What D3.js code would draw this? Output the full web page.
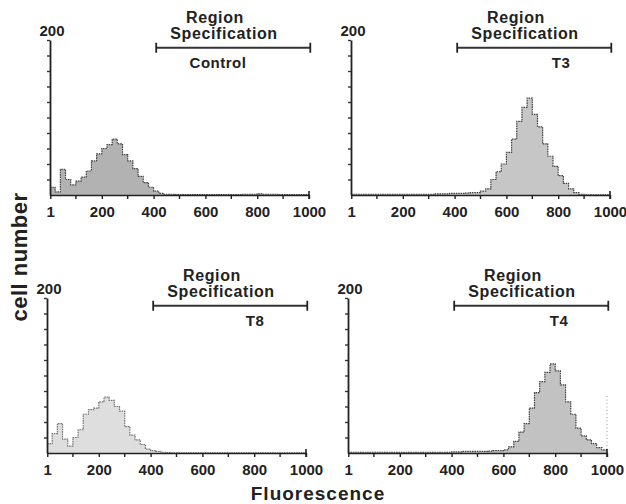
<!DOCTYPE html>
<html>
<head>
<meta charset="utf-8">
<script src="https://cdn.jsdelivr.net/npm/d3@7"></script>
<style>
  html, body { margin: 0; padding: 0; background: #fff; }
  svg { display: block; }
  text { font-family: "Liberation Sans", Arial, sans-serif; font-weight: 700; fill: #222; }
</style>
</head>
<body>
<svg id="chart" width="626" height="504"></svg>
<script>
// ---- data (bins of 20 fluorescence channels, start values) ----
const binStarts = d3.range(0, 1000, 20);
const binWidth = 20;

const control = [10, 4, 33, 20, 13, 18, 23, 31, 44, 53, 60, 65, 72, 66, 52, 44, 34, 24, 16, 10,
                 5, 2, 1, 1, 0.5, 0.5, 0.5, 0.5, 0.5, 0.5, 0.5, 0.5, 0.5, 0.5, 0.5, 0.5, 0.5, 1, 1, 1,
                 1.5, 1, 1, 1, 0.5, 0.5, 0.5, 0.5, 0.5, 0.5];
const t3 = [1, 1, 1, 1, 1, 1, 1, 1, 1, 1, 1, 1, 1, 1, 1, 1, 1.5, 1.5, 1.5, 2,
            2, 2, 2.5, 3, 3, 5, 8, 20, 30, 40, 55, 72, 95, 113, 125, 104, 88, 66, 50, 37,
            25, 15, 8, 3, 1, 0.3, 0.3, 0.3, 0.3, 0.3];
const t8 = [12, 25, 38, 18, 9, 20, 30, 50, 56, 58, 66, 72, 68, 60, 54, 34, 23, 17, 11, 5,
            3, 2, 1, 0.5, 0.3, 0.3, 0.3, 0.3, 0.3, 0.3, 0.3, 0.3, 0.3, 0.3, 0.3, 0.3, 0.3, 0.3, 0.3, 0.3,
            0.3, 0.3, 0.3, 0.3, 0.3, 0.3, 0.3, 0.3, 0.3, 0.3];
const t4 = [1, 1, 1, 1, 1, 1, 1, 1, 1, 1, 1, 1, 1, 1, 1, 1, 1, 1, 1, 1,
            1.5, 1.5, 2, 2, 2, 2, 2, 2.5, 3, 3, 4, 8, 15, 27, 38, 58, 78, 92, 104, 115,
            106, 88, 66, 50, 32, 22, 17, 12, 7, 4];

const panelNames = ["Control", "T3", "T8", "T4"];
const panelSeries = [control, t3, t8, t4];

const xTickValues = [1, 200, 400, 600, 800, 1000];
const xTickLabels = ["1", "200", "400", "600", "800", "1000"];
const xMinorTicks = d3.range(100, 1000, 100);
const yTickValues = d3.range(20, 201, 20);
const yMaxLabel = "200";
const regionSpec = [410, 1005];      // Region Specification range
const regionLevel = 190;             // drawn at count level
const regionTitle = ["Region", "Specification"];
const t4Marker = [[1000, 0], [1000, 75]];
const xTitle = "Fluorescence";
const yTitle = "cell number";

// ---- layout ----
const panels = [
  { x0: 50,  base: 195, fill: "#b2b2b2", lab: 168 },
  { x0: 351, base: 195, fill: "#c6c6c6", lab: 210 },
  { x0: 47,  base: 453, fill: "#dedede", lab: 208 },
  { x0: 348, base: 453, fill: "#c2c2c2", lab: 211 }
];
const W = 259, H = 155;

const svg = d3.select("#chart");
svg.append("rect").attr("width", 626).attr("height", 504).attr("fill", "#fff");

panels.forEach((p, i) => {
  const data = panelSeries[i];
  const x = d3.scaleLinear().domain([0, 1000]).range([p.x0, p.x0 + W]);
  const y = d3.scaleLinear().domain([0, 200]).range([p.base, p.base - H]);
  const g = svg.append("g");

  const pts = binStarts.map((b, k) => [b, data[k]]);
  pts.push([1000, data[data.length - 1]]);

  const area = d3.area().curve(d3.curveStepAfter)
    .x(d => x(d[0])).y0(y(0)).y1(d => y(d[1]));
  const line = d3.line().curve(d3.curveStepAfter)
    .x(d => x(d[0])).y(d => y(d[1]));

  g.append("path").attr("d", area(pts)).attr("fill", p.fill).attr("stroke", "none");
  g.append("path").attr("d", line(pts)).attr("fill", "none")
    .attr("stroke", i === 2 ? "#777" : "#444").attr("stroke-width", 1.2)
    .attr("stroke-dasharray", "1.6 0.8");

  if (i === 3) {
    g.append("path").attr("d", d3.line().x(d => x(d[0])).y(d => y(d[1]))(t4Marker))
      .attr("stroke", "#999").attr("stroke-width", 1).attr("stroke-dasharray", "1 2.5").attr("fill", "none");
  }

  // x axis
  const xa = g.append("g").attr("transform", `translate(0,${p.base})`)
    .call(d3.axisBottom(x).tickValues(xTickValues).tickSizeInner(4).tickSizeOuter(0).tickPadding(7)
      .tickFormat((d, k) => xTickLabels[k]));
  xa.select(".domain").attr("stroke", "#222").attr("stroke-width", 1.6);
  xa.selectAll(".tick line").attr("stroke", "#222").attr("stroke-width", 1.4);
  xa.selectAll(".tick text").attr("font-size", 15).attr("fill", "#222")
    .attr("font-family", "'Liberation Sans', Arial, sans-serif").attr("font-weight", 700);
  g.selectAll(".minor").data(xMinorTicks.filter(v => xTickValues.indexOf(v) < 0)).join("line")
    .attr("x1", d => x(d)).attr("x2", d => x(d))
    .attr("y1", p.base).attr("y2", p.base + 4)
    .attr("stroke", "#222").attr("stroke-width", 1.4);
  // end cap at 1000
  g.append("line").attr("x1", x(1000)).attr("x2", x(1000))
    .attr("y1", p.base - 4).attr("y2", p.base + 4)
    .attr("stroke", "#222").attr("stroke-width", 1.6);

  // y axis
  const ya = g.append("g").attr("transform", `translate(${p.x0},0)`)
    .call(d3.axisLeft(y).tickValues(yTickValues).tickSizeInner(3).tickSizeOuter(0).tickFormat(""));
  ya.select(".domain").attr("stroke", "#222").attr("stroke-width", 1.8);
  ya.selectAll(".tick line").attr("stroke", "#333").attr("stroke-width", 1.4);

  g.append("text").attr("x", p.x0 + 2).attr("y", y(200) - 4)
    .attr("text-anchor", "middle").attr("font-size", 15).text(yMaxLabel);

  // region specification bar
  const ry = y(regionLevel);
  g.append("line").attr("x1", x(regionSpec[0])).attr("x2", x(regionSpec[1]))
    .attr("y1", ry).attr("y2", ry).attr("stroke", "#333").attr("stroke-width", 2);
  regionSpec.forEach(v => {
    g.append("line").attr("x1", x(v)).attr("x2", x(v))
      .attr("y1", ry - 5).attr("y2", ry + 5).attr("stroke", "#222").attr("stroke-width", 1.8);
  });
  g.append("text").attr("x", p.x0 + 165).attr("y", ry - 25).attr("text-anchor", "middle")
    .attr("font-size", 16).attr("letter-spacing", 0.6).text(regionTitle[0]);
  g.append("text").attr("x", p.x0 + 174).attr("y", ry - 9).attr("text-anchor", "middle")
    .attr("font-size", 16).attr("letter-spacing", 0.6).text(regionTitle[1]);
  g.append("text").attr("x", p.x0 + p.lab).attr("y", ry + 20).attr("text-anchor", "middle")
    .attr("font-size", 15).attr("letter-spacing", 0.5).text(panelNames[i]);
});

svg.append("text").attr("transform", "translate(27,257) rotate(-90)")
  .attr("text-anchor", "middle").attr("font-family", "'DejaVu Sans', sans-serif")
  .attr("font-size", 22).attr("font-weight", 700).attr("letter-spacing", 0.5).attr("fill", "#111").text(yTitle);
svg.append("text").attr("x", 318).attr("y", 500)
  .attr("text-anchor", "middle").attr("font-family", "'DejaVu Sans', sans-serif")
  .attr("font-size", 19).attr("font-weight", 700).attr("letter-spacing", 1).attr("fill", "#111").text(xTitle);
</script>
</body>
</html>
